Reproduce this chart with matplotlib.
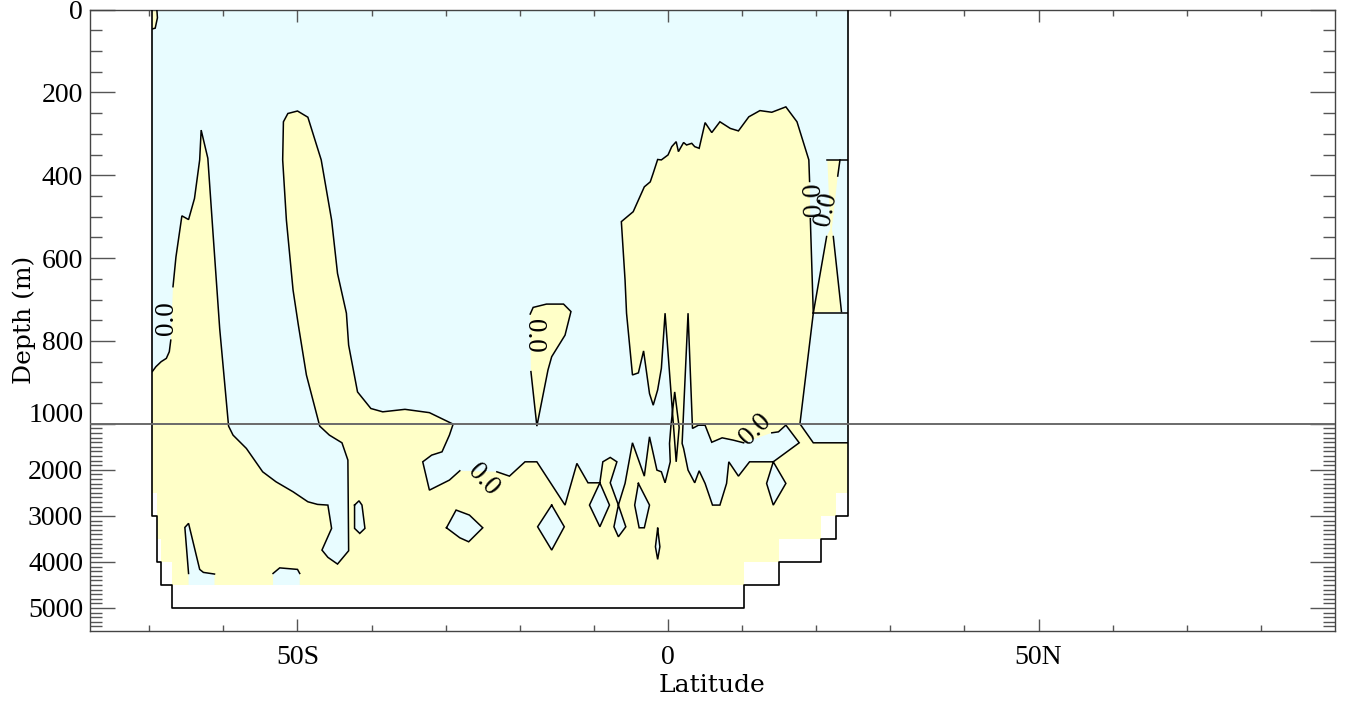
import numpy as np
import matplotlib
matplotlib.use('Agg')
import matplotlib.pyplot as plt
from matplotlib.patches import Polygon
from matplotlib.ticker import FixedLocator, FixedFormatter

plt.rcParams['font.family'] = ['Liberation Serif', 'DejaVu Serif']

# ------------------------------------------------------------------ data
CYAN = '#E8FCFF'
YELLOW = '#FFFFC8'

# area covered by the coloured field (lat, depth)
field_lat = [-69.7, 24.3, 24.3, 22.6, 22.6, 20.6, 20.6, 15.0, 15.0, 10.2, 10.2,
             -66.9, -66.9, -68.4, -68.4, -69.0, -69.0, -69.7]
field_dep = [0, 0, 2500, 2500, 3000, 3000, 3500, 3500, 4000, 4000, 4500,
             4500, 4000, 4000, 3500, 3500, 2500, 2500]

# bottom topography outline
bathy_lat = [-69.7, -69.7, -69.0, -69.0, -68.4, -68.4, -66.9, -66.9, 10.2, 10.2,
             15.0, 15.0, 20.6, 20.6, 22.6, 22.6, 24.3, 24.3]
bathy_dep = [0, 3000, 3000, 4000, 4000, 4500, 4500, 5000, 5000, 4500,
             4500, 4000, 4000, 3500, 3500, 3000, 3000, 0]

# ---- main positive (yellow) region: 0.0 contour pieces ----
main_p1 = [(-69.9, 876), (-69.6, 874), (-69.1, 862), (-68.4, 850), (-67.7, 842),
           (-67.3, 826), (-67.1, 798)]
main_p2 = [(-66.8, 669), (-66.4, 597), (-65.6, 498), (-64.7, 507), (-63.9, 456),
           (-63.2, 363), (-63.0, 291), (-62.1, 359), (-61.4, 540), (-60.5, 770),
           (-59.3, 1050), (-58.7, 1245), (-56.9, 1534), (-54.7, 2042), (-52.9, 2259),
           (-50.6, 2476), (-48.6, 2693), (-47.3, 2750), (-45.9, 2765), (-45.4, 3271),
           (-46.7, 3742), (-45.9, 3900), (-44.6, 4046), (-43.1, 3757), (-43.2, 1788),
           (-44.0, 1412), (-45.7, 1245), (-47.0, 1050), (-48.8, 882), (-49.9, 760),
           (-50.6, 677), (-51.5, 508), (-52.0, 363), (-51.9, 271), (-51.3, 251),
           (-50.0, 245), (-48.6, 260), (-47.5, 323), (-46.8, 363), (-45.4, 508),
           (-44.6, 637), (-43.4, 733), (-43.1, 810), (-41.9, 923), (-40.1, 963),
           (-38.5, 971), (-35.5, 965), (-32.2, 973), (-29.0, 1007), (-29.5, 1245),
           (-30.5, 1608), (-31.9, 1680), (-33.1, 1825), (-32.2, 2440), (-29.5, 2222),
           (-28.1, 2020)]
main_p3 = [(-23.1, 2042), (-21.4, 2136), (-19.3, 1825), (-17.7, 1825), (-13.9, 2765),
           (-12.3, 1860), (-10.8, 2281), (-9.2, 2281), (-8.8, 1825), (-7.8, 1730),
           (-6.9, 1825), (-7.8, 2281), (-6.7, 2765), (-5.8, 2294), (-4.8, 1412),
           (-3.2, 2136), (-2.5, 1282), (-1.5, 2005), (-0.9, 2042), (-0.4, 2281),
           (0.3, 1825), (0.2, 1426), (0.4, 1028), (0.9, 923), (1.5, 1080), (1.1, 1825),
           (-0.4, 733), (-0.9, 866), (-1.4, 918), (-2.0, 955), (-2.5, 927), (-3.3, 824),
           (-4.0, 877), (-4.8, 882), (-5.6, 733), (-5.8, 653), (-6.3, 512), (-4.7, 488),
           (-3.2, 428), (-2.4, 416), (-2.0, 395), (-1.4, 362), (-0.9, 363), (0.0, 351),
           (0.5, 331), (1.1, 319), (1.4, 343), (2.1, 321), (2.5, 327), (3.2, 323),
           (3.6, 331), (4.2, 335), (5.0, 273), (5.9, 297), (7.0, 271), (8.4, 287),
           (9.5, 293), (10.9, 259), (12.4, 244), (14.0, 248), (15.9, 235), (17.4, 271),
           (19.0, 363), (19.1, 415)]
main_p4 = [(19.2, 505), (19.6, 733), (17.8, 1000), (19.6, 1412), (24.6, 1412)]
main_close = [(26, 1412), (26, 6000), (-72, 6000), (-72, 876)]

# small positive cell near the surface at the southern wall
surf_p1 = [(-69.0, -5), (-68.9, 20), (-69.2, 45), (-69.8, 48)]
surf_close = [(-71, 48), (-71, -10), (-69, -10)]

# isolated positive blob near 18S
blob_p1 = [(-18.6, 735), (-18.2, 719), (-16.4, 711), (-14.1, 711), (-13.1, 729),
           (-13.9, 786), (-15.7, 838), (-16.2, 870), (-17.7, 1050), (-18.5, 874)]

# positive hourglass against the northern wall
wedge_fill = [(21.5, 363), (23.2, 363), (22.9, 402), (22.1, 530), (22.3, 548),
              (23.4, 729), (19.6, 733), (21.4, 548), (21.9, 530)]
wedge_l1 = [(21.5, 363), (24.3, 363)]
wedge_l2 = [(23.2, 363), (22.9, 402)]
wedge_l3 = [(19.6, 733), (21.4, 548)]
wedge_l4 = [(22.3, 548), (23.4, 729)]
wedge_l5 = [(19.6, 733), (24.3, 733)]

# negative (cyan) pockets inside the positive region
east_p1 = [(14.0, 1195), (14.9, 1174), (15.9, 1028), (17.7, 1412), (14.2, 1825),
           (11.0, 1825), (9.5, 2136), (8.2, 1825), (7.9, 2294), (7.0, 2765),
           (6.0, 2765), (5.0, 2294), (4.2, 2020), (3.6, 2281), (2.7, 2005),
           (2.1, 1534), (1.9, 1426), (2.7, 733), (3.3, 1100), (4.1, 1030),
           (5.0, 1030), (5.9, 1400), (7.3, 1304), (8.8, 1354), (10.2, 1412)]
hole1_p = [(-64.7, 4250), (-65.2, 3250), (-64.7, 3162), (-63.2, 4162), (-62.7, 4227),
           (-61.2, 4263)]
hole1_close = [(-61.2, 4600), (-64.7, 4600)]
hole2_p = [(-53.3, 4250), (-52.4, 4129), (-50.0, 4162), (-49.7, 4250)]
hole2_close = [(-49.7, 4600), (-53.3, 4600)]
hole3 = [(-42.3, 2765), (-41.7, 2672), (-41.3, 2765), (-40.9, 3271), (-41.6, 3380),
         (-42.3, 3271)]
hole4 = [(-29.9, 3258), (-28.6, 2873), (-26.8, 2982), (-25.0, 3258), (-26.9, 3562),
         (-28.1, 3475)]
hole5 = [(-15.7, 2765), (-14.0, 3236), (-15.7, 3742), (-17.6, 3236)]
hole6 = [(-9.2, 2281), (-10.6, 2765), (-9.2, 3236), (-7.9, 2765)]
hole7 = [(-6.7, 2765), (-5.7, 3236), (-6.7, 3453), (-7.3, 3236)]
hole8 = [(-4.0, 2294), (-4.5, 2765), (-3.9, 3258), (-3.2, 3258), (-2.5, 2765)]
hole9 = [(-1.4, 3271), (-1.7, 3670), (-1.4, 3944), (-1.1, 3670)]
hole10 = [(14.2, 1825), (13.3, 2294), (14.2, 2765), (15.9, 2294)]

# contour labels
label_lat = [-67.7, -24.9, -18.1, 11.8, 19.7, 21.4]
label_dep = [745, 2222, 788, 1125, 458, 482]
label_rot = [90, -47, -90, 45, 92, 78]

# axes ticks
ytick_major = [0, 200, 400, 600, 800, 1000, 2000, 3000, 4000, 5000]
ytick_text = ['0', '200', '400', '600', '800', '', '2000', '3000', '4000', '5000']
xtick_major = [-50, 0, 50]
xtick_text = ['50S', '0', '50N']


# ------------------------------------------------------------------ scale
def fwd(d):
    d = np.asarray(d, dtype=float)
    return np.where(d <= 1000, d, 1000 + (d - 1000) / 9.0)


def inv(t):
    t = np.asarray(t, dtype=float)
    return np.where(t <= 1000, t, 1000 + (t - 1000) * 9.0)


fig = plt.figure(figsize=(13.46, 7.04), dpi=100)
ax = fig.add_axes([90 / 1346, 1 - 631 / 704, (1335 - 90) / 1346, (631 - 9.5) / 704])
ax.set_yscale('function', functions=(fwd, inv))
ax.set_xlim(-78, 90)
ax.set_ylim(5500, 0)

domain = Polygon(list(zip(field_lat, field_dep)), closed=True, facecolor=CYAN,
                 edgecolor='none', zorder=1)
ax.add_patch(domain)

LW = 1.1


def draw_lines(pieces, z=4):
    for piece in pieces:
        xs, ys = zip(*piece)
        ln, = ax.plot(xs, ys, color='k', lw=LW, zorder=z, solid_joinstyle='miter')
        ln.set_clip_path(domain)


def draw_region(pieces, closure, color, z):
    pts = [p for piece in pieces for p in piece] + list(closure)
    poly = Polygon(pts, closed=True, facecolor=color, edgecolor='none', zorder=z)
    ax.add_patch(poly)
    poly.set_clip_path(domain)
    draw_lines(pieces)


def draw_loop(loop, color, z):
    draw_region([list(loop) + [loop[0]]], [], color, z)


# positive regions
draw_region([main_p1, main_p2, main_p3, main_p4], main_close, YELLOW, 2)
draw_region([surf_p1], surf_close, YELLOW, 2)
draw_region([blob_p1], [], YELLOW, 2)
wp = Polygon(wedge_fill, closed=True, facecolor=YELLOW, edgecolor='none', zorder=2)
ax.add_patch(wp)
wp.set_clip_path(domain)
draw_lines([wedge_l1, wedge_l2, wedge_l3, wedge_l4, wedge_l5])

# negative pockets
draw_region([east_p1], [], CYAN, 3)
draw_region([hole1_p], hole1_close, CYAN, 3)
draw_region([hole2_p], hole2_close, CYAN, 3)
for h in [hole3, hole4, hole5, hole6, hole7, hole8, hole9, hole10]:
    draw_loop(h, CYAN, 3)

# bottom topography and 1000 m break line
ax.plot(bathy_lat, bathy_dep, color='k', lw=1.2, zorder=5)
ax.axhline(1000, color='#6a6a6a', lw=1.4, zorder=5)

for lt, dp, rt in zip(label_lat, label_dep, label_rot):
    ax.text(lt, dp, '0.0', rotation=rt, rotation_mode='anchor', ha='center',
            va='center', fontsize=19.5, zorder=6)

# ------------------------------------------------------------------ axes
ax.yaxis.set_major_locator(FixedLocator(ytick_major))
ax.yaxis.set_major_formatter(FixedFormatter(ytick_text))
ymin = [d for d in range(50, 1000, 50) if d % 200 != 0] + \
       [d for d in range(1100, 5500, 100) if d % 1000 != 0]
ax.yaxis.set_minor_locator(FixedLocator(ymin))
ax.xaxis.set_major_locator(FixedLocator(xtick_major))
ax.xaxis.set_major_formatter(FixedFormatter(xtick_text))
ax.xaxis.set_minor_locator(FixedLocator([-70, -60, -40, -30, -20, -10, 10, 20, 30,
                                         40, 60, 70, 80]))

TC = '#555555'
ax.tick_params(axis='y', which='major', direction='in', length=18, width=1.0,
               left=True, right=True, color=TC, labelsize=20, pad=5)
ax.tick_params(axis='y', which='minor', direction='in', length=8.6, width=1.0,
               left=True, right=True, color=TC)
ax.tick_params(axis='x', which='major', direction='in', length=8.6, width=1.0,
               bottom=True, top=True, color=TC, labelsize=20, pad=10)
ax.tick_params(axis='x', which='minor', direction='in', length=4, width=1.0,
               bottom=True, top=True, color=TC)
for s in ax.spines.values():
    s.set_color('#444444')
    s.set_linewidth(1.0)

ax.annotate('1000', xy=(0, 1000), xycoords=('axes fraction', 'data'),
            xytext=(-4.5, 6), textcoords='offset points', ha='right',
            va='center', fontsize=20)

ax.set_xlabel('Latitude', fontsize=18, family='DejaVu Serif', labelpad=3)
ax.set_ylabel('Depth (m)', fontsize=18, family='DejaVu Serif')
ax.yaxis.set_label_coords(-0.043, 0.5)

fig.savefig('out.png', dpi=100)
